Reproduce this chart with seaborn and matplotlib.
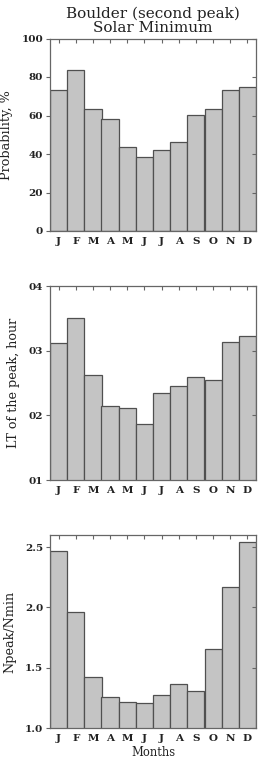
import matplotlib
matplotlib.use("Agg")
import matplotlib.pyplot as plt
import seaborn as sns
import pandas as pd
from matplotlib.ticker import FuncFormatter

months = ["J", "F", "M", "A", "M", "J", "J", "A", "S", "O", "N", "D"]
probability = [73.1, 83.6, 63.2, 58.0, 43.5, 38.4, 42.2, 46.4, 60.1, 63.2, 73.1, 75.0]
lt_peak = [3.12, 3.50, 2.62, 2.15, 2.11, 1.87, 2.34, 2.45, 2.60, 2.54, 3.13, 3.23]
npeak_nmin = [2.47, 1.96, 1.425, 1.26, 1.215, 1.207, 1.273, 1.37, 1.307, 1.655, 2.168, 2.541]

prob_ticks = [0, 20, 40, 60, 80, 100]
lt_ticks = [1, 2, 3, 4]
ratio_ticks = [1.0, 1.5, 2.0, 2.5]

sns.set_theme(style="white")
plt.rcParams["font.family"] = ["DejaVu Serif", "DejaVu Sans"]

FILL = "#c4c4c4"
EDGE = "#505050"
SPINE = "#666666"
TEXT = "#222222"

fig = plt.figure(figsize=(2.66, 7.80), dpi=100)
left, width = 50 / 266, 206 / 266
boxes = [
    (1 - 231 / 780, 192.5 / 780),
    (1 - 480 / 780, 194 / 780),
    (1 - 728.3 / 780, 193.3 / 780),
]
series = [probability, lt_peak, npeak_nmin]
ylims = [(0, 100), (1, 4), (1.0, 2.6)]
yticks = [prob_ticks, lt_ticks, ratio_ticks]
ylabels = ["Probability, %", "LT of the peak, hour", "Npeak/Nmin"]
fmts = [
    FuncFormatter(lambda v, p: f"{int(round(v))}"),
    FuncFormatter(lambda v, p: f"{int(round(v)):02d}"),
    FuncFormatter(lambda v, p: f"{v:.1f}"),
]

for i, (b, h) in enumerate(boxes):
    ax = fig.add_axes([left, b, width, h])
    df = pd.DataFrame({"pos": list(range(12)), "val": series[i]})
    sns.barplot(data=df, x="pos", y="val", ax=ax, color=FILL, saturation=1,
                width=1.0, edgecolor=EDGE, linewidth=0.9)
    ax.set_xlim(-0.5, 11.5)
    ax.set_ylim(*ylims[i])
    ax.set_yticks(yticks[i])
    ax.yaxis.set_major_formatter(fmts[i])
    ax.set_xticks(range(12))
    ax.set_xticklabels(months)
    for s in ax.spines.values():
        s.set_color(SPINE)
        s.set_linewidth(0.9)
    ax.tick_params(axis="x", which="both", direction="in", top=True, bottom=True,
                   length=3, width=0.8, color=SPINE, labelsize=7.5, pad=4,
                   labelcolor=TEXT)
    ax.tick_params(axis="y", which="both", direction="out", left=True, right=False,
                   length=3, width=0.8, color=SPINE, labelsize=7.5, pad=2,
                   labelcolor=TEXT)
    for lab in ax.get_xticklabels() + ax.get_yticklabels():
        lab.set_fontweight("bold")
    ax2 = ax.twinx()
    ax2.set_ylim(*ylims[i])
    ax2.set_yticks(yticks[i])
    ax2.set_yticklabels([])
    ax2.tick_params(axis="y", direction="in", length=3, width=0.8, color=SPINE)
    for s in ax2.spines.values():
        s.set_visible(False)
    ax.set_ylabel(ylabels[i], fontsize=9.2, color=TEXT, labelpad=6)
    if i == 2:
        ax.set_xlabel("Months", fontsize=8.3, color=TEXT, labelpad=2)
    else:
        ax.set_xlabel("")
    if i == 0:
        ax.set_title("Boulder (second peak)\nSolar Minimum", fontsize=11,
                     color=TEXT, pad=5, linespacing=0.95)

fig.savefig("out.png", dpi=100)
